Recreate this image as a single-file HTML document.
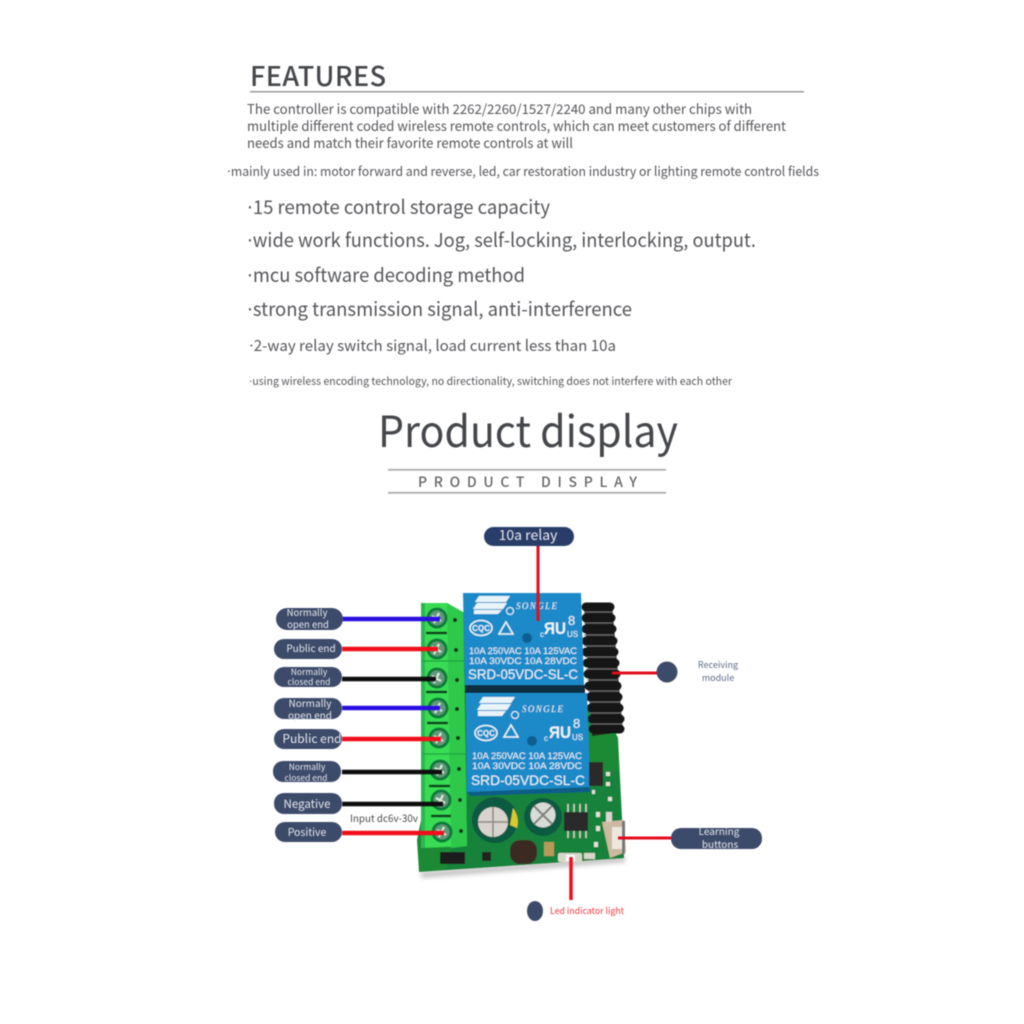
<!DOCTYPE html>
<html><head><meta charset="utf-8"><style>
html,body{margin:0;padding:0;background:#fff;width:1024px;height:1024px;overflow:hidden}
svg{display:block}
text{font-family:"Noto Sans CJK SC","DejaVu Sans","Liberation Sans",sans-serif}
tspan.d{font-family:"DejaVu Sans",sans-serif}
</style></head><body>
<svg width="1024" height="1024" viewBox="0 0 1024 1024" xmlns="http://www.w3.org/2000/svg">
<defs>
<filter id="b"><feGaussianBlur stdDeviation="0.45"/></filter>
<filter id="p"><feGaussianBlur stdDeviation="0.6"/></filter>
<filter id="s"><feGaussianBlur stdDeviation="2.5"/></filter>
<g id="screw"><circle r="10.5" fill="#0c7a3a"/><circle r="7.5" fill="#5f9a78"/><path d="M-5 -2L4 3M-3 5L2 -5" stroke="#dfeadf" stroke-width="2"/></g>
</defs>
<rect width="1024" height="1024" fill="#fff"/>
<g filter="url(#b)">
<text x="250" y="86" font-size="27" font-weight="500" fill="#45474b" textLength="136" lengthAdjust="spacing">FEATURES</text>
<rect x="250" y="91" width="554" height="1.5" fill="#9a9a9a"/>
<g fill="#55565a" font-size="13.5">
<text x="247" y="114" textLength="505" lengthAdjust="spacingAndGlyphs">The controller is compatible with 2262/2260/1527/2240 and many other chips with</text>
<text x="247" y="131" textLength="539" lengthAdjust="spacingAndGlyphs">multiple different coded wireless remote controls, which can meet customers of different</text>
<text x="247" y="148" textLength="326" lengthAdjust="spacingAndGlyphs">needs and match their favorite remote controls at will</text>
<text x="227" y="176" font-size="13" textLength="592" lengthAdjust="spacingAndGlyphs"><tspan class="d">·</tspan>mainly used in: motor forward and reverse, led, car restoration industry or lighting remote control fields</text>
</g>
<g fill="#55565a" font-size="19">
<text x="247" y="214" textLength="303" lengthAdjust="spacingAndGlyphs"><tspan class="d">·</tspan>15 remote control storage capacity</text>
<text x="247" y="247" textLength="509" lengthAdjust="spacingAndGlyphs"><tspan class="d">·</tspan>wide work functions. Jog, self-locking, interlocking, output.</text>
<text x="247" y="282" textLength="278" lengthAdjust="spacingAndGlyphs"><tspan class="d">·</tspan>mcu software decoding method</text>
<text x="247" y="316" textLength="385" lengthAdjust="spacingAndGlyphs"><tspan class="d">·</tspan>strong transmission signal, anti-interference</text>
<text x="249" y="351" font-size="15" textLength="367" lengthAdjust="spacingAndGlyphs"><tspan class="d">·</tspan>2-way relay switch signal, load current less than 10a</text>
<text x="249" y="385" font-size="11" textLength="483" lengthAdjust="spacingAndGlyphs"><tspan class="d">·</tspan>using wireless encoding technology, no directionality, switching does not interfere with each other</text>
</g>
<text x="378" y="447" font-size="43" fill="#45474b" textLength="300" lengthAdjust="spacingAndGlyphs">Product display</text>
<rect x="388" y="469" width="278" height="1.6" fill="#a5a5a5"/>
<rect x="388" y="492" width="278" height="1.6" fill="#a5a5a5"/>
<text x="418" y="487" font-size="14" font-weight="500" fill="#666" textLength="219">PRODUCT DISPLAY</text>
</g>

<!-- board -->
<g filter="url(#p)">
<polygon points="421,878 626,862 624,856 421,872" fill="#888" opacity=".5" filter="url(#s)"/>
<polygon points="463,612 612,725 618,738 624,858 419,872 417,840" fill="#1c8a36"/>
<polygon points="470,792 618,770 624,858 445,870" fill="#17823a"/>
<!-- terminal -->
<polygon points="421,603 447,603 463,612 467,846 423,848" fill="#38dc52"/>
<polygon points="447,603 463,612 467,846 451,848" fill="#2ec94c"/>
<rect x="421" y="603" width="4" height="245" fill="#2db552"/>
<path d="M422 661L464 661M423 754L466 754" stroke="#1fa23e" stroke-width="1.2"/>
<g stroke="#0d3a1c" stroke-width="2.5">
<path d="M426 633L447 633M426 692L447 692M427 723L448 723M429 786L450 786M431 816L451 816"/>
</g>
<g fill="#0f2d17"><circle cx="455" cy="620" r="2"/><circle cx="456" cy="650" r="2"/><circle cx="457" cy="680" r="2"/><circle cx="457" cy="709" r="2"/><circle cx="458" cy="738" r="2"/><circle cx="459" cy="769" r="2"/><circle cx="460" cy="800" r="2"/><circle cx="461" cy="831" r="2"/></g>
<use href="#screw" x="437" y="618"/><use href="#screw" x="437" y="649"/><use href="#screw" x="437" y="678"/><use href="#screw" x="438" y="708"/><use href="#screw" x="439" y="738"/><use href="#screw" x="440" y="770"/><use href="#screw" x="441" y="800"/><use href="#screw" x="442" y="832"/>
<!-- antenna -->
<polygon points="584,604 612,604 623,732 592,736" fill="#222"/>
<g stroke="#141414" stroke-width="9" stroke-linecap="round">
<path d="M586 607H610M586 618H611M586 629H612M586 641H613M586 652H614M587 663H615M588 674H616M589 686H617M590 697H618M591 708H619M592 719H620M593 729H620"/>
</g>
<g stroke="#6a6a6a" stroke-width=".9"><path d="M584 612H612M584 623H613M584 635H614M584 646H615M585 657H616M586 669H617M587 680H618M588 691H619M589 702H620M590 713H621M591 724H622"/></g>
<!-- relay 1 -->
<polygon points="463,593 581,593 584,685 465,685" fill="#1a8ac8"/>
<rect x="465" y="685" width="120" height="8" fill="#0a2d40"/>
<!-- relay 2 -->
<polygon points="466,693 587,693 590,787 467,792" fill="#1a8ac8"/>
<polygon points="467,792 590,787 590,792 470,796" fill="#0c5d88"/>
<g fill="#e8f4fa">
<polygon points="479,596 510,596 506,602 475,602"/><polygon points="477,603 507,603 503,609 473,609"/><polygon points="474,610 502,610 498,614 474,614"/>
<polygon points="483,697 515,697 511,703 479,703"/><polygon points="481,704 511,704 507,710 477,710"/><polygon points="478,711 506,711 502,716 478,716"/>
</g>
<g fill="#e8f4fa">
<text x="516" y="609" font-size="9" font-style="italic" style="font-family:'Liberation Serif',serif" textLength="41">SONGLE</text>
<text x="522" y="712" font-size="9" font-style="italic" style="font-family:'Liberation Serif',serif" textLength="41">SONGLE</text>
</g>
<g fill="none" stroke="#e8f4fa" stroke-width="1.5">
<ellipse cx="481" cy="628" rx="11" ry="7.5"/><polygon points="506,622 513,634 499,634"/><circle cx="510" cy="611" r="3.5" stroke-width="1"/>
<ellipse cx="486" cy="733" rx="11" ry="7.5"/><polygon points="511,725 518,737 504,737"/><circle cx="515" cy="715" r="3.5" stroke-width="1"/>
</g>
<circle cx="527" cy="638" r="5" fill="#0d5f92"/><circle cx="532" cy="741" r="5" fill="#0d5f92"/>
<g fill="#e8f4fa">
<text x="481" y="631" font-size="8" font-weight="bold" text-anchor="middle" style="font-family:'Liberation Sans',sans-serif">CQC</text>
<text x="486" y="736" font-size="8" font-weight="bold" text-anchor="middle" style="font-family:'Liberation Sans',sans-serif">CQC</text>
<text x="540" y="637" font-size="8" style="font-family:'Liberation Sans',sans-serif">c</text>
<text x="544" y="634" font-size="17" font-weight="bold" style="font-family:'Liberation Sans',sans-serif" textLength="22" lengthAdjust="spacingAndGlyphs">ЯU</text>
<text x="568" y="625" font-size="13" style="font-family:'Liberation Sans',sans-serif">8</text>
<text x="567" y="637" font-size="8" style="font-family:'Liberation Sans',sans-serif">US</text>
<text x="544" y="741" font-size="8" style="font-family:'Liberation Sans',sans-serif">c</text>
<text x="549" y="738" font-size="17" font-weight="bold" style="font-family:'Liberation Sans',sans-serif" textLength="22" lengthAdjust="spacingAndGlyphs">ЯU</text>
<text x="573" y="728" font-size="13" style="font-family:'Liberation Sans',sans-serif">8</text>
<text x="572" y="740" font-size="8" style="font-family:'Liberation Sans',sans-serif">US</text>
<text x="469" y="654" font-size="9.5" style="font-family:'Liberation Sans',sans-serif" textLength="108" lengthAdjust="spacingAndGlyphs">10A 250VAC  10A 125VAC</text>
<text x="469" y="664" font-size="9.5" style="font-family:'Liberation Sans',sans-serif" textLength="108" lengthAdjust="spacingAndGlyphs">10A  30VDC  10A  28VDC</text>
<text x="468" y="679" font-size="14" style="font-family:'Liberation Sans',sans-serif" textLength="110" lengthAdjust="spacingAndGlyphs">SRD-05VDC-SL-C</text>
<text x="472" y="759" font-size="9.5" style="font-family:'Liberation Sans',sans-serif" textLength="110" lengthAdjust="spacingAndGlyphs">10A 250VAC  10A 125VAC</text>
<text x="472" y="769" font-size="9.5" style="font-family:'Liberation Sans',sans-serif" textLength="110" lengthAdjust="spacingAndGlyphs">10A  30VDC  10A  28VDC</text>
<text x="471" y="785" font-size="14" style="font-family:'Liberation Sans',sans-serif" textLength="114" lengthAdjust="spacingAndGlyphs">SRD-05VDC-SL-C</text>
</g>
<!-- components -->
<circle cx="495" cy="820" r="23" fill="#0f5a42"/><circle cx="493" cy="822" r="15" fill="#d8d3cc"/><path d="M493 807V837M478 822H508" stroke="#8a8880" stroke-width="1.5"/><path d="M513 808a22 22 0 0 1 4 20l-7-3z" fill="#d8c92e"/>
<circle cx="543" cy="817" r="19" fill="#0f5a42"/><circle cx="543" cy="815" r="12.5" fill="#d8dcd8"/><path d="M534 806L552 824M552 806L534 824" stroke="#7e807d" stroke-width="2"/>
<rect x="510" y="840" width="27" height="24" rx="10" fill="#3a2a24"/>
<rect x="564" y="812" width="24" height="19" fill="#2a2a2a"/>
<g stroke="#d4d4c8" stroke-width="1.5"><path d="M568 804V812M574 804V812M580 804V812M586 804V812M568 831V838M574 831V838M580 831V838M586 831V838"/></g>
<rect x="589" y="762" width="14" height="24" fill="#2a2a2a"/>
<rect x="440" y="852" width="25" height="12" fill="#1d1d1d"/><rect x="482" y="852" width="9" height="9" fill="#222"/>
<rect x="544" y="842" width="10" height="14" fill="#b59a5a"/>
<rect x="558" y="853" width="24" height="9" fill="#d6d6c8" rx="2"/><rect x="566" y="855" width="9" height="6" fill="#fff"/>
<rect x="584" y="853" width="11" height="6" fill="#d6d6c8"/>
<g fill="#e2e2d6"><rect x="592" y="790" width="3" height="4"/><rect x="606" y="772" width="4" height="4"/><rect x="606" y="782" width="4" height="4"/><rect x="608" y="797" width="4" height="4"/><rect x="596" y="812" width="4" height="5"/><rect x="596" y="826" width="4" height="5"/><rect x="594" y="842" width="4" height="5"/></g>
<!-- button -->
<polygon points="602,822 624,820 626,852 610,858" fill="#cdb9a0"/>
<rect x="606" y="812" width="6" height="10" fill="#d9d6cf"/>
<rect x="612" y="827" width="10" height="22" fill="#ece7df"/>
<rect x="622" y="821" width="3" height="33" fill="#777"/>
</g>

<!-- wires -->
<g filter="url(#b)" stroke-width="4.5" fill="none">
<path d="M342 619H440" stroke="#2a10e0"/>
<path d="M342 649H438" stroke="#f0101c"/>
<path d="M342 679H436" stroke="#0a0a0a"/>
<path d="M342 708H440" stroke="#2a10e0"/>
<path d="M342 739H441" stroke="#f0101c"/>
<path d="M342 772H442" stroke="#0a0a0a"/>
<path d="M342 804H443" stroke="#0a0a0a"/>
<path d="M342 833H444" stroke="#f0101c"/>
<path d="M538 545V621" stroke="#e3101c" stroke-width="3"/>
<path d="M612 673H658" stroke="#e3101c" stroke-width="3"/>
<path d="M618 838H672" stroke="#e3101c" stroke-width="3"/>
<path d="M571 857V900" stroke="#f0101c" stroke-width="3.5"/>
</g>

<!-- pills -->
<g filter="url(#b)" fill="#3e4c6b">
<rect x="276" y="608" width="67" height="22" rx="11"/>
<rect x="274" y="639" width="68" height="20" rx="10"/>
<rect x="274" y="667" width="68" height="20" rx="10"/>
<rect x="274" y="698" width="68" height="21" rx="10"/>
<rect x="274" y="729" width="68" height="20" rx="10"/>
<rect x="273" y="761" width="68" height="21" rx="10"/>
<rect x="274" y="793" width="68" height="21" rx="10"/>
<rect x="275" y="822" width="67" height="20" rx="10"/>
<rect x="484" y="527" width="90" height="19" rx="9.5" fill="#2c3d68"/>
<rect x="671" y="828" width="91" height="21" rx="10"/>
<circle cx="667" cy="672" r="10.5"/>
<ellipse cx="535" cy="911" rx="8" ry="10"/>
</g>
<g filter="url(#b)" fill="#e6e8ee" text-anchor="middle">
<text x="307" y="616" font-size="9.5">Normally</text>
<text x="308" y="628" font-size="9.5">open end</text>
<text x="311" y="652" font-size="10">Public end</text>
<text x="309" y="675" font-size="8.5">Normally</text>
<text x="309" y="685" font-size="8.5">closed end</text>
<text x="310" y="707" font-size="10">Normally</text>
<text x="310" y="719" font-size="10">open end</text>
<text x="312" y="743" font-size="12">Public end</text>
<text x="307" y="770" font-size="8.5">Normally</text>
<text x="306" y="781" font-size="8.5">closed end</text>
<text x="307" y="808" font-size="11.5">Negative</text>
<text x="307" y="836" font-size="10.5">Positive</text>
<text x="528" y="540" font-size="14">10a relay</text>
<text x="719" y="835" font-size="10">Learning</text>
<text x="720" y="848" font-size="10">buttons</text>
</g>
<g filter="url(#b)">
<text x="350" y="822" font-size="10" fill="#4a4a4a" textLength="68" lengthAdjust="spacingAndGlyphs">Input dc6v-30v</text>
<text x="718" y="668" font-size="9" fill="#5c6a86" text-anchor="middle">Receiving</text>
<text x="718" y="681" font-size="9" fill="#5c6a86" text-anchor="middle">module</text>
<text x="550" y="914" font-size="9" fill="#f0383c" textLength="74" lengthAdjust="spacingAndGlyphs">Led indicator light</text>
</g>
</svg>
</body></html>
